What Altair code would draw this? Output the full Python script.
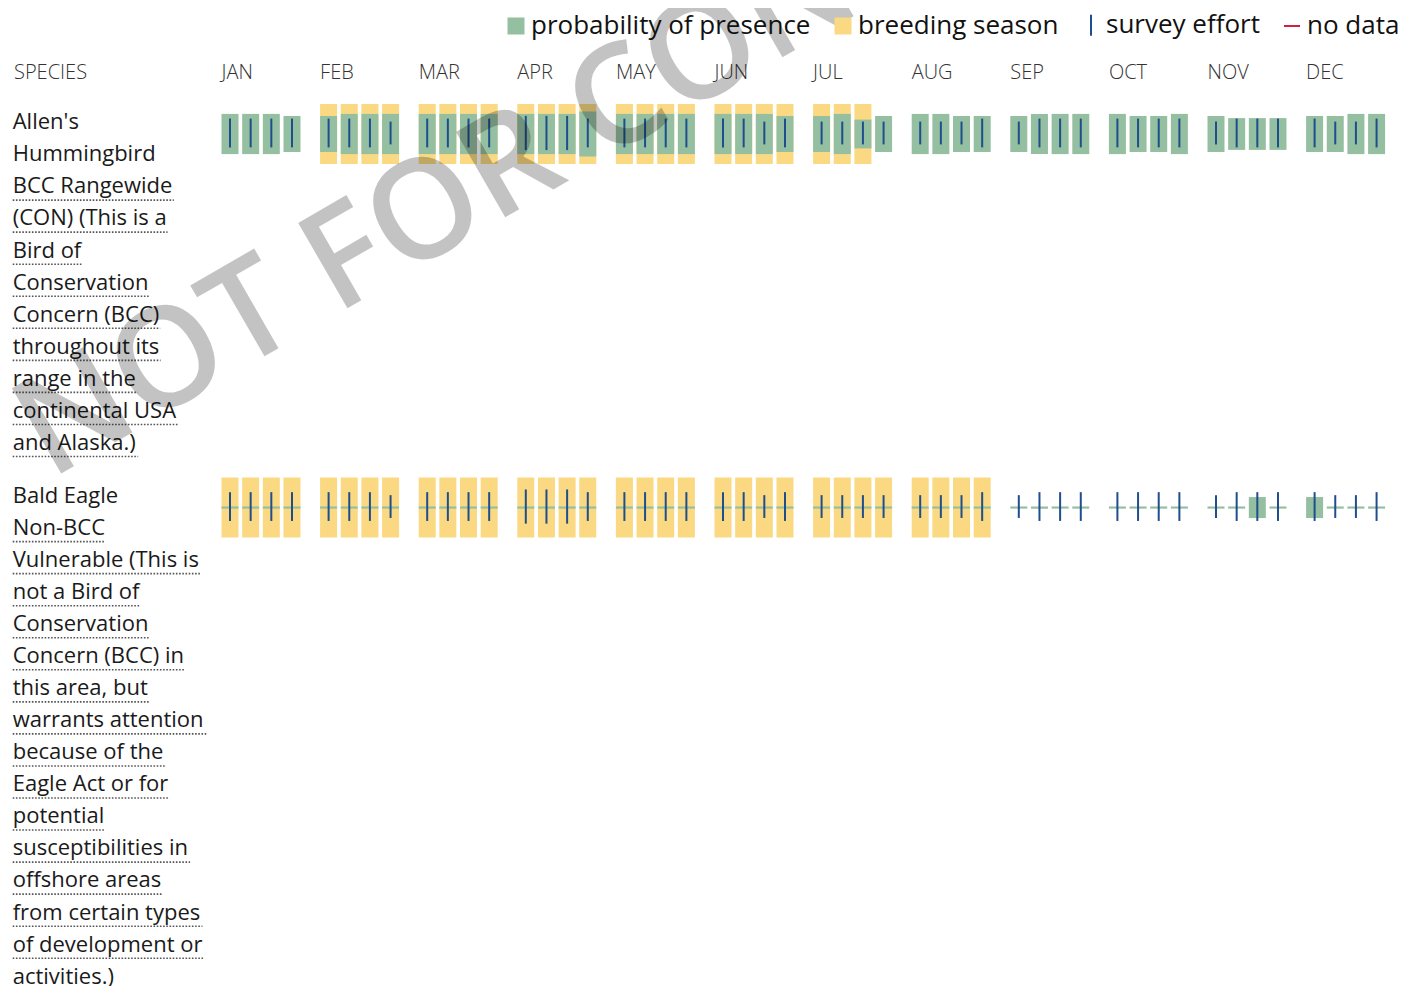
import altair as alt
import pandas as pd

# ---------------- data ----------------
MONTHS = ["JAN", "FEB", "MAR", "APR", "MAY", "JUN", "JUL", "AUG", "SEP", "OCT", "NOV", "DEC"]
SPECIES = ["Allen's Hummingbird", "Bald Eagle"]
SPECIES_LINES = [
    ["Allen's", "Hummingbird", "BCC Rangewide", "(CON) (This is a", "Bird of",
     "Conservation", "Concern (BCC)", "throughout its", "range in the",
     "continental USA", "and Alaska.)"],
    ["Bald Eagle", "Non-BCC", "Vulnerable (This is", "not a Bird of", "Conservation",
     "Concern (BCC) in", "this area, but", "warrants attention", "because of the",
     "Eagle Act or for", "potential", "susceptibilities in", "offshore areas",
     "from certain types", "of development or", "activities.)"],
]
NAME_LINES = [2, 1]  # leading lines holding the common name (not underlined)

# probability of presence, 4 weeks per month (share of the full cell height)
ALLENS_PRESENCE = [
    0.67, 0.67, 0.67, 0.60,  0.60, 0.67, 0.67, 0.67,  0.67, 0.67, 0.67, 0.67,
    0.67, 0.67, 0.67, 0.75,  0.67, 0.67, 0.67, 0.67,  0.67, 0.67, 0.67, 0.60,
    0.60, 0.67, 0.48, 0.60,  0.67, 0.67, 0.60, 0.60,  0.60, 0.67, 0.67, 0.67,
    0.67, 0.60, 0.60, 0.67,  0.60, 0.53, 0.53, 0.53,  0.60, 0.60, 0.67, 0.67,
]
BALD_EAGLE_PRESENCE = [
    0, 0, 0, 0,  0, 0, 0, 0,  0, 0, 0, 0,  0, 0, 0, 0,
    0, 0, 0, 0,  0, 0, 0, 0,  0, 0, 0, 0,  0, 0, 0, 0,
    0, 0, 0, 0,  0, 0, 0, 0,  0, 0, 0.35, 0,  0.35, 0, 0, 0,
]
ALLENS_BREEDING = [
    0, 0, 0, 0,  1, 1, 1, 1,  1, 1, 1, 1,  1, 1, 1, 1,
    1, 1, 1, 1,  1, 1, 1, 1,  1, 1, 1, 0,  0, 0, 0, 0,
    0, 0, 0, 0,  0, 0, 0, 0,  0, 0, 0, 0,  0, 0, 0, 0,
]
BALD_EAGLE_BREEDING = [
    1, 1, 1, 1,  1, 1, 1, 1,  1, 1, 1, 1,  1, 1, 1, 1,
    1, 1, 1, 1,  1, 1, 1, 1,  1, 1, 1, 1,  1, 1, 1, 1,
    0, 0, 0, 0,  0, 0, 0, 0,  0, 0, 0, 0,  0, 0, 0, 0,
]
# survey effort (same for every species in the area)
SURVEY_EFFORT = [
    0.48, 0.48, 0.48, 0.48,  0.48, 0.48, 0.48, 0.38,  0.48, 0.48, 0.48, 0.48,
    0.57, 0.57, 0.57, 0.48,  0.48, 0.48, 0.48, 0.48,  0.48, 0.48, 0.38, 0.48,
    0.38, 0.38, 0.38, 0.38,  0.38, 0.38, 0.38, 0.48,  0.38, 0.48, 0.48, 0.48,
    0.48, 0.48, 0.48, 0.48,  0.38, 0.48, 0.48, 0.48,  0.48, 0.38, 0.38, 0.48,
]
LEGEND_ITEMS = ["probability of presence", "breeding season", "survey effort", "no data"]
WATERMARK = "NOT FOR CONSULTATION"

# ---------------- style / layout ----------------
GREEN, YELLOW, BLUE, RED = "#95BFA1", "#FAD982", "#1F4E8C", "#D3203F"
FONT = "Open Sans"
W, H = 1402, 978
WEEK_PX = 20.66
X_ORIGIN = 213.5
MONTH_STRIDE = 98.6 / WEEK_PX
CELL_W = 17.0 / WEEK_PX
CELL_H = 60.0
LINE_H = 32.05
ROW_GAP = 21.0
FIRST_ROW_TOP = 96.0
TEXT_X = 4.7
TEXT_SIZE = 22

# Open Sans advance widths (units per 2048 em) to size the dotted underlines
ADV = {
    " ": 532, "'": 385, "(": 594, ")": 594, ",": 502, "-": 659, ".": 545,
    "A": 1296, "B": 1327, "C": 1292, "D": 1493, "E": 1139, "F": 1057, "G": 1491,
    "H": 1511, "I": 571, "J": 547, "K": 1257, "L": 1073, "M": 1849, "N": 1544,
    "O": 1595, "P": 1233, "Q": 1595, "R": 1266, "S": 1098, "T": 1124, "U": 1503,
    "V": 1243, "W": 1942, "X": 1233, "Y": 1165, "Z": 1157,
    "a": 1188, "b": 1260, "c": 1010, "d": 1260, "e": 1165, "f": 674, "g": 1120,
    "h": 1276, "i": 528, "j": 528, "k": 1100, "l": 528, "m": 1933, "n": 1276,
    "o": 1233, "p": 1260, "q": 1260, "r": 846, "s": 981, "t": 729, "u": 1276,
    "v": 1034, "w": 1587, "x": 1100, "y": 1036, "z": 965,
}


def text_width(s, size):
    return sum(ADV.get(ch, 1150) for ch in s) / 2048.0 * size


x_scale = alt.Scale(domain=[-X_ORIGIN / WEEK_PX, (W - X_ORIGIN) / WEEK_PX], nice=False, zero=False)

presence = [ALLENS_PRESENCE, BALD_EAGLE_PRESENCE]
breeding = [ALLENS_BREEDING, BALD_EAGLE_BREEDING]

row_tops = []
top = FIRST_ROW_TOP
for lines in SPECIES_LINES:
    row_tops.append(top)
    top += len(lines) * LINE_H + ROW_GAP

cell_rows = []
text_rows = []
for s, name in enumerate(SPECIES):
    for i in range(48):
        m, w = divmod(i, 4)
        cell_rows.append(dict(species=name, month=MONTHS[m], week=w + 1,
                              pos=m * MONTH_STRIDE + w, presence=presence[s][i],
                              breeding=breeding[s][i], effort=SURVEY_EFFORT[i],
                              row_top=row_tops[s]))
    for j, line in enumerate(SPECIES_LINES[s]):
        base_y = row_tops[s] + 25.3 + j * LINE_H
        text_rows.append(dict(text=line, ty=base_y, uy=base_y + 6.7,
                              under=int(j >= NAME_LINES[s]),
                              ux0=TEXT_X, ux1=TEXT_X + text_width(line, TEXT_SIZE)))
cells = pd.DataFrame(cell_rows)
texts = pd.DataFrame(text_rows)

base = alt.Chart(cells).transform_calculate(
    x1=f"datum.pos + {CELL_W}",
    xc=f"datum.pos + {CELL_W / 2}",
    mid=f"datum.row_top + {CELL_H / 2}",
    b1=f"datum.row_top + {CELL_H}",
).transform_calculate(
    p0=f"datum.mid - max(datum.presence * {CELL_H}, 2.2) / 2",
    p1=f"datum.mid + max(datum.presence * {CELL_H}, 2.2) / 2",
    e0=f"datum.mid - 1 - datum.effort * {CELL_H} / 2",
    e1=f"datum.mid - 1 + datum.effort * {CELL_H} / 2",
)

X = alt.X("pos:Q", scale=x_scale, axis=None)

breed_layer = base.transform_filter("datum.breeding == 1").mark_rect(color=YELLOW).encode(
    x=X, x2="x1:Q", y=alt.Y("row_top:Q", scale=None), y2="b1:Q")
pres_layer = base.mark_rect(color=GREEN).encode(
    x=X, x2="x1:Q", y=alt.Y("p0:Q", scale=None), y2="p1:Q")
effort_layer = base.mark_rule(color=BLUE, strokeWidth=2).encode(
    x=alt.X("xc:Q", scale=x_scale, axis=None), y=alt.Y("e0:Q", scale=None), y2="e1:Q")

months_df = pd.DataFrame({"month": MONTHS, "pos": [m * MONTH_STRIDE for m in range(12)]})
month_layer = alt.Chart(months_df).mark_text(
    align="left", baseline="alphabetic", font=FONT, fontSize=20, fontWeight=300, color="#333333"
).encode(x=X, y=alt.value(71.3), text="month:N")
header_layer = alt.Chart(pd.DataFrame({"t": ["SPECIES"]})).mark_text(
    align="left", baseline="alphabetic", font=FONT, fontSize=20, fontWeight=300, color="#333333"
).encode(x=alt.value(6), y=alt.value(71.3), text="t:N")

text_layer = alt.Chart(texts).mark_text(
    align="left", baseline="alphabetic", font=FONT, fontSize=TEXT_SIZE, color="#1a1a1a"
).encode(x=alt.value(TEXT_X), y=alt.Y("ty:Q", scale=None), text="text:N")
underline_layer = alt.Chart(texts).transform_filter("datum.under == 1").mark_rule(
    color="#555555", strokeWidth=1.6, strokeDash=[1.6, 1.6]
).encode(x=alt.X("ux0:Q", scale=None), x2="ux1:Q", y=alt.Y("uy:Q", scale=None))

watermark_layer = alt.Chart(pd.DataFrame({"t": [WATERMARK]})).mark_text(
    align="left", baseline="alphabetic", font=FONT, fontSize=138, fontWeight=600, angle=330,
    color="#000000", opacity=0.23
).encode(x=alt.value(42), y=alt.value(472), text="t:N")

leg = alt.Legend(title=None, orient="none", legendX=495, legendY=4, direction="horizontal",
                 labelFont=FONT, labelFontSize=26, labelColor="#111111", labelLimit=500,
                 symbolSize=225, symbolStrokeWidth=2, labelOffset=2, columnPadding=19,
                 padding=0)
legend_layer = alt.Chart(pd.DataFrame({"item": LEGEND_ITEMS})).mark_point(opacity=1).encode(
    x=alt.value(-300), y=alt.value(-300),
    fill=alt.Fill("item:N", scale=alt.Scale(domain=LEGEND_ITEMS, range=[GREEN, YELLOW, BLUE, RED]), legend=leg),
    stroke=alt.Stroke("item:N", scale=alt.Scale(domain=LEGEND_ITEMS, range=[GREEN, YELLOW, BLUE, RED]), legend=leg),
    shape=alt.Shape("item:N", scale=alt.Scale(domain=LEGEND_ITEMS,
                    range=["square", "square", "M0,-1.4L0,1.4", "M-1.07,0L1.07,0"]), legend=leg),
)

chart = alt.layer(
    breed_layer, pres_layer, effort_layer, month_layer, header_layer,
    text_layer, underline_layer, watermark_layer, legend_layer,
).properties(width=W, height=H, padding=0, autosize="none", background="white"
).configure_view(stroke=None)

chart.save("out.html", embed_options={"renderer": "svg", "actions": False})
